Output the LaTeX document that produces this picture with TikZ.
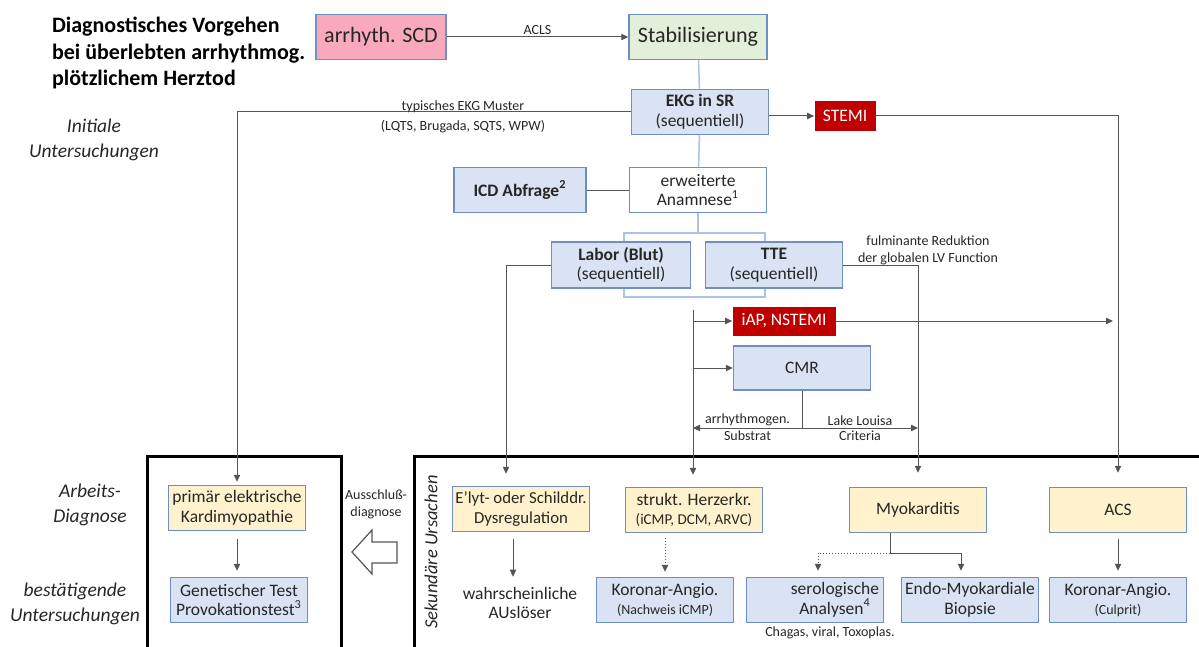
\documentclass[tikz,border=0pt]{standalone}
\usepackage{fontspec}
\setmainfont{Carlito}
\usetikzlibrary{arrows.meta}
\definecolor{bordc}{RGB}{111,143,196}
\definecolor{bluef}{RGB}{218,227,243}
\definecolor{yellf}{RGB}{255,242,204}
\definecolor{greenf}{RGB}{226,240,217}
\definecolor{pinkf}{RGB}{248,170,188}
\definecolor{redf}{RGB}{192,0,0}
\definecolor{treec}{RGB}{169,194,232}
\definecolor{linec}{RGB}{85,85,85}
\definecolor{txt}{RGB}{38,38,38}

\begin{document}
\begin{tikzpicture}[x=0.5pt,y=-0.5pt,
  flowbox/.style={draw=bordc,line width=0.75pt,minimum width=68.5pt,minimum height=22.5pt,inner sep=1pt,align=center,text=txt,font=\fontsize{8.75}{9.75}\selectfont},
  bluebox/.style={flowbox,fill=bluef},
  yelbox/.style={flowbox,fill=yellf},
  alarmbox/.style={fill=redf,text=white,inner sep=1pt,font=\fontsize{8.75}{9.75}\selectfont},
  smalltxt/.style={text=txt,align=center,inner sep=1pt,font=\fontsize{7}{8.5}\selectfont},
  sidetxt/.style={text=txt,align=center,font=\itshape\fontsize{9.75}{12.25}\selectfont},
  conn/.style={draw=linec,line width=0.5pt},
  conarr/.style={conn,-{Triangle[length=3.5pt,width=3.2pt]}},
  treeline/.style={draw=treec,line width=0.75pt}
]
\useasboundingbox (0,0) rectangle (1199,647);

\node[anchor=west,align=left,font=\bfseries\fontsize{11}{13.25}\selectfont] (title) at (45,53) {Diagnostisches Vorgehen\\bei überlebten arrhythmog.\\plötzlichem Herztod};
\node[sidetxt] (init) at (94,140) {Initiale\\Untersuchungen};
\node[sidetxt] (arbd) at (90,505) {Arbeits-\\Diagnose};
\node[sidetxt] (best) at (75,604) {bestätigende\\Untersuchungen};

\node[flowbox,fill=pinkf,minimum width=65pt,font=\fontsize{11}{13}\selectfont] (scd) at (381,37) {arrhyth. SCD};
\node[flowbox,fill=greenf,minimum width=69pt,font=\fontsize{11}{13}\selectfont] (stab) at (698,37) {Stabilisierung};
\node[bluebox] (ekg) at (700,112) {\textbf{EKG in SR}\\(sequentiell)};
\node[alarmbox,minimum width=30.5pt,minimum height=15pt] (stemi) at (845,116) {STEMI};
\node[bluebox,minimum width=66pt] (icd) at (520,190) {\textbf{ICD Abfrage\textsuperscript{2}}};
\node[flowbox,fill=white] (anam) at (698,190) {erweiterte\\Anamnese\textsuperscript{1}};
\node[bluebox,minimum width=69.5pt,minimum height=23pt] (labor) at (621,265) {\textbf{Labor (Blut)}\\(sequentiell)};
\node[bluebox,minimum height=23pt] (tte) at (774,265) {\textbf{TTE}\\(sequentiell)};
\node[alarmbox,minimum width=51.5pt,minimum height=14.5pt] (nstemi) at (784,321) {iAP, NSTEMI};
\node[bluebox,minimum height=22pt] (cmr) at (802,368) {CMR};

\node[yelbox] (prim) at (237,508) {primär elektrische\\Kardimyopathie};
\node[bluebox] (gen) at (239,600) {Genetischer Test\\Provokationstest\textsuperscript{3}};
\node[yelbox,inner xsep=0pt,font=\fontsize{8.4}{9.75}\selectfont] (elyt) at (521,509) {E’lyt- oder Schilddr.\\Dysregulation};
\node[yelbox] (strukt) at (694,510) {strukt. Herzerkr.\\{\fontsize{7.5}{9}\selectfont (iCMP, DCM, ARVC)}};
\node[yelbox] (myo) at (918,510) {Myokarditis};
\node[yelbox] (acs) at (1118,510) {ACS};
\node[text=txt,align=center,inner sep=0pt,font=\fontsize{8.75}{9.75}\selectfont] (ausl) at (520,603) {wahrscheinliche\\AUslöser};
\node[bluebox] (koro1) at (665,600) {Koronar-Angio.\\{\fontsize{7}{8.5}\selectfont (Nachweis iCMP)}};
\node[bluebox] (sero) at (815,600) {\hspace*{20pt}serologische\\\hspace*{20pt}Analysen\textsuperscript{4}};
\node[bluebox] (endo) at (970,600) {Endo-Myokardiale\\Biopsie};
\node[bluebox] (koro2) at (1118,600) {Koronar-Angio.\\{\fontsize{7}{8.5}\selectfont (Culprit)}};
\node[smalltxt] (chag) at (830,633) {Chagas, viral, Toxoplas.};

\draw[line width=1.5pt] (147,650) -- (147,456) -- (341,456) -- (341,650);
\draw[line width=1.5pt] (414,650) -- (414,456) -- (1205,456);
\node[sidetxt,font=\itshape\fontsize{9.25}{11}\selectfont,rotate=90] (sek) at (431,552) {Sekundäre Ursachen};
\node[smalltxt] (aus) at (376,504) {Ausschluß-\\diagnose};
\draw[draw=linec,line width=0.6pt,fill=white] (397,542) -- (372,542) -- (372,530) -- (352,552) -- (372,574) -- (372,563) -- (397,563) -- cycle;

\draw[conarr] (scd) -- node[smalltxt,above] {ACLS} (stab);
\draw[treeline] (stab) -- (ekg);
\draw[conarr] (ekg.east |- stemi) -- (stemi);
\draw[conarr,shorten >=7pt] (stemi) -| (acs);
\draw[conarr,shorten >=1.5pt] (ekg) -| (prim);
\node[smalltxt,font=\fontsize{7}{10}\selectfont] (typ) at (463,117) {typisches EKG Muster\\(LQTS, Brugada, SQTS, WPW)};

\draw[treeline] (ekg) -- (anam);
\draw[conn] (icd) -- (anam);
\coordinate (br1) at (698,233);
\coordinate (br2) at (695,297);
\draw[treeline] (anam) -- (br1);
\draw[treeline] ([xshift=1.5pt]labor.north) |- (br1) -| ([xshift=-4.5pt]tte.north);
\draw[treeline] ([xshift=1.5pt]labor.south) |- (br2) -| ([xshift=-4.5pt]tte.south);

\draw[conarr,shorten >=6pt] (labor) -| ([xshift=-7.5pt]elyt.north);
\draw[conarr,shorten >=7pt] (tte) -| (myo);
\node[smalltxt] (fulm) at (928,250) {fulminante Reduktion\\der globalen LV Function};

\coordinate (trk) at (693,310);
\draw[conarr,shorten >=6pt] (trk) -- (trk |- strukt.north);
\draw[conarr] (trk |- nstemi) -- (nstemi);
\draw[conarr] (trk |- cmr) -- (cmr);
\draw[conarr,shorten >=2.5pt] (nstemi) -- (nstemi -| acs);
\coordinate (cm1) at (802,428);
\draw[conn] (cmr) -- (cm1);
\draw[conarr] (cm1) -- node[smalltxt,above] {arrhythmogen.} node[smalltxt,below] {Substrat} (cm1 -| trk);
\draw[conarr] (cm1) -- node[smalltxt,above] {Lake Louisa} node[smalltxt,below] {Criteria} (cm1 -| myo);

\draw[conarr,shorten <=4pt,shorten >=3pt] (prim) -- (prim |- gen.north);
\draw[conarr,shorten <=3.5pt,shorten >=5pt] ([xshift=-4pt]elyt.south) -- ([xshift=-4pt]elyt.south |- ausl.north);
\draw[conarr,densely dotted,shorten <=2.5pt,shorten >=2.5pt] (koro1 |- strukt.south) -- (koro1);
\coordinate (my1) at (890,553);
\draw[conn] (my1 |- myo.south) -- (my1);
\draw[conarr,shorten >=3pt] (my1) -| ([xshift=-4.5pt]endo.north);
\draw[conarr,densely dotted,shorten >=3pt] (my1) -| ([xshift=1.5pt]sero.north);
\draw[conarr,shorten <=3pt,shorten >=3pt] (acs) -- (koro2);
\end{tikzpicture}
\end{document}
